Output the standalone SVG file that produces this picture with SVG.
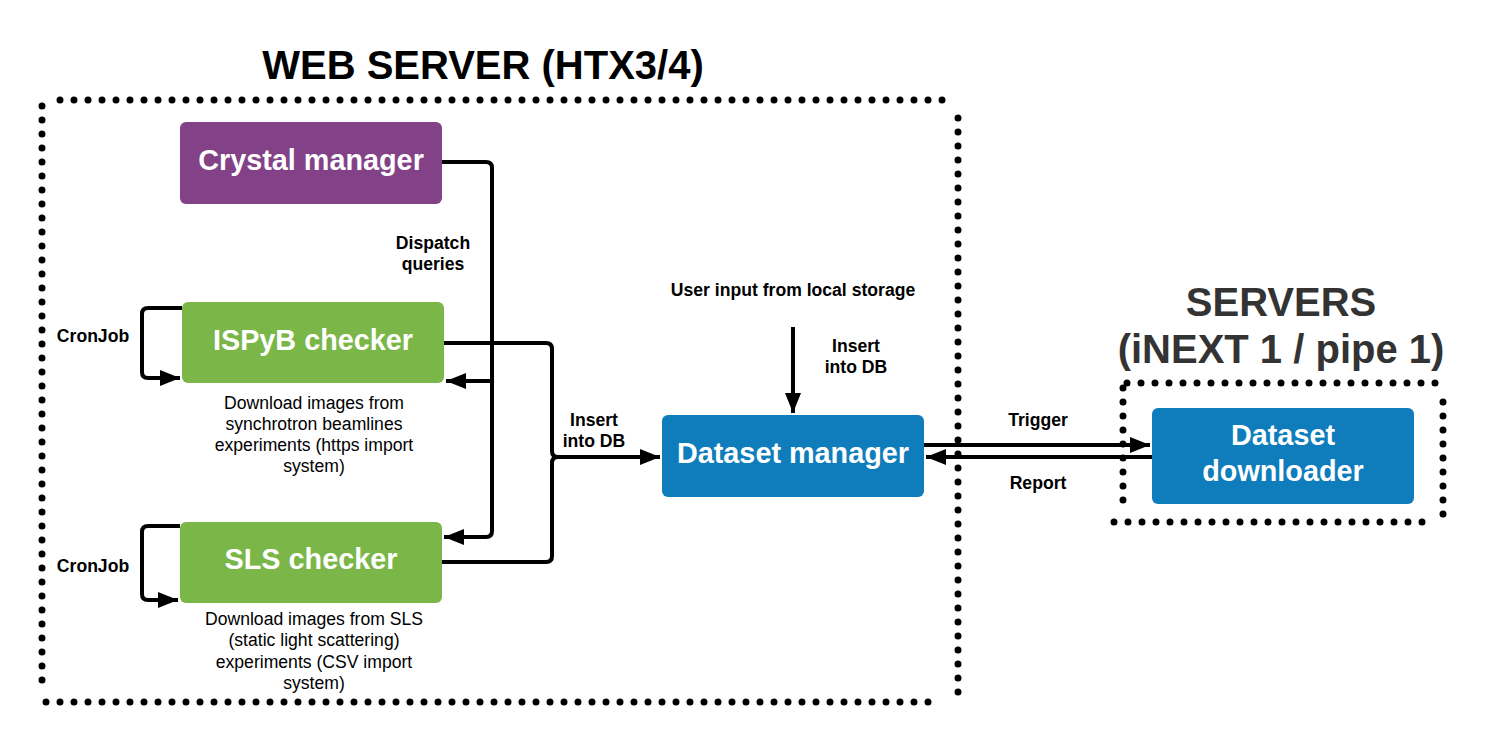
<svg xmlns="http://www.w3.org/2000/svg" width="1502" height="747" viewBox="0 0 1502 747">
<style>
.dots{fill:none;stroke:#000;stroke-width:7;stroke-linecap:round;stroke-dasharray:0 14}
.box{stroke:none}
.bt{font-family:"Liberation Sans",Arial,sans-serif;font-weight:bold;fill:#fff;text-anchor:middle;font-size:28.8px}
.lb{font-family:"Liberation Sans",Arial,sans-serif;font-weight:bold;font-size:17.6px;fill:#000;text-anchor:middle}
.ds{font-family:"Liberation Sans",Arial,sans-serif;font-size:17.6px;fill:#000;text-anchor:middle}
.title{font-family:"Liberation Sans",Arial,sans-serif;font-weight:bold;font-size:40px;text-anchor:middle}
.conn{fill:none;stroke:#000;stroke-width:4;stroke-linejoin:round}
</style>
<defs>
<marker id="ah" markerUnits="userSpaceOnUse" markerWidth="22" markerHeight="18" refX="20" refY="9" orient="auto">
<path d="M0,1 L20,9 L0,17 Z" fill="#000"/>
</marker>
</defs>
<rect width="1502" height="747" fill="#fff"/>
<g id="web-server-frame">
<text class="title" x="483" y="79" fill="#000">WEB SERVER (HTX3/4)</text>
<line class="dots" x1="60" y1="100" x2="952" y2="100"/>
<line class="dots" x1="42" y1="106" x2="42" y2="686"/>
<line class="dots" x1="958" y1="118" x2="958" y2="698"/>
<line class="dots" x1="46" y1="702" x2="942" y2="702"/>
</g>
<g id="servers-frame">
<text class="title" x="1281" y="316" fill="#333">SERVERS</text>
<text class="title" x="1281" y="363" fill="#333">(iNEXT 1 / pipe 1)</text>
<line class="dots" x1="1127" y1="383" x2="1437" y2="383"/>
<line class="dots" x1="1123" y1="388" x2="1123" y2="504"/>
<line class="dots" x1="1443" y1="402" x2="1443" y2="516"/>
<line class="dots" x1="1114" y1="522" x2="1426" y2="522"/>
</g>
<g id="connectors">
<path class="conn" d="M442,162 H486 Q492,162 492,168 V531 Q492,537 486,537 H444" marker-end="url(#ah)"/>
<path class="conn" d="M492,381 H446" marker-end="url(#ah)"/>
<path class="conn" d="M444,343 H546 Q552,343 552,349 V451 Q552,457 558,457 H660" marker-end="url(#ah)"/>
<path class="conn" d="M442,562 H546 Q552,562 552,556 V463 Q552,457 558,457"/>
<path class="conn" d="M182,308 H148 Q142,308 142,314 V372 Q142,378 148,378 H180" marker-end="url(#ah)"/>
<path class="conn" d="M180,526 H148 Q142,526 142,532 V594 Q142,600 148,600 H178" marker-end="url(#ah)"/>
<path class="conn" d="M793,327 V413" marker-end="url(#ah)"/>
<path class="conn" d="M924,445 H1150" marker-end="url(#ah)"/>
<path class="conn" d="M1152,457 H926" marker-end="url(#ah)"/>
</g>
<g id="crystal-manager">
<rect class="box" x="180" y="122" width="262" height="82" rx="6" fill="#834187"/>
<text class="bt" x="311" y="170">Crystal manager</text>
</g>
<g id="ispyb-checker">
<rect class="box" x="182" y="302" width="262" height="81" rx="6" fill="#7AB648"/>
<text class="bt" x="313" y="350">ISPyB checker</text>
<text class="ds" x="314" y="409">Download images from</text>
<text class="ds" x="314" y="430">synchrotron beamlines</text>
<text class="ds" x="314" y="451">experiments (https import</text>
<text class="ds" x="314" y="472">system)</text>
</g>
<g id="sls-checker">
<rect class="box" x="180" y="522" width="262" height="81" rx="6" fill="#7AB648"/>
<text class="bt" x="311" y="569">SLS checker</text>
<text class="ds" x="314" y="625">Download images from SLS</text>
<text class="ds" x="314" y="646">(static light scattering)</text>
<text class="ds" x="314" y="668">experiments (CSV import</text>
<text class="ds" x="314" y="689">system)</text>
</g>
<g id="dataset-manager">
<rect class="box" x="662" y="415" width="262" height="82" rx="6" fill="#0F7DBC"/>
<text class="bt" x="793" y="463">Dataset manager</text>
</g>
<g id="dataset-downloader">
<rect class="box" x="1152" y="408" width="262" height="96" rx="6" fill="#0F7DBC"/>
<text class="bt" x="1283" y="445">Dataset</text>
<text class="bt" x="1283" y="481">downloader</text>
</g>
<g id="labels">
<text class="lb" x="433" y="249">Dispatch</text>
<text class="lb" x="433" y="270">queries</text>
<text class="lb" x="93" y="342">CronJob</text>
<text class="lb" x="93" y="572">CronJob</text>
<text class="lb" x="594" y="426">Insert</text>
<text class="lb" x="594" y="447">into DB</text>
<text class="lb" x="793" y="296">User input from local storage</text>
<text class="lb" x="856" y="352">Insert</text>
<text class="lb" x="856" y="373">into DB</text>
<text class="lb" x="1038" y="426">Trigger</text>
<text class="lb" x="1038" y="489">Report</text>
</g>
</svg>
